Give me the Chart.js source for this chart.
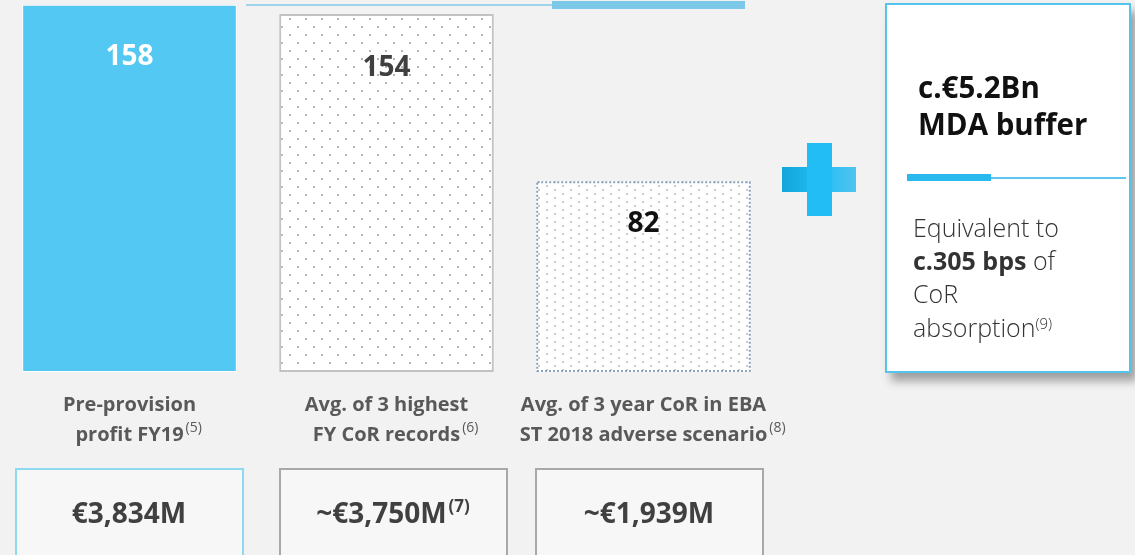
<!DOCTYPE html>
<html lang="en">
<head>
    <meta charset="UTF-8">
    <title>CoR absorption capacity</title>
    <script src="https://cdn.jsdelivr.net/npm/chart.js"></script>
    <style>
        body {
            margin: 0;
            background: #f2f2f2;
            font-family: "Open Sans", "Noto Sans", Arial, sans-serif;
        }
        .page {
            position: relative;
            width: 1135px;
            height: 555px;
            overflow: hidden;
        }
        .page div { position: absolute; box-sizing: border-box; }
        .line-thin { left: 246px; top: 4px; width: 306px; height: 2px; background: #9fd4ec; }
        .line-thick { left: 552px; top: 1px; width: 193px; height: 8px; background: #7cc8e8; }
        .plus-h { left: 782px; top: 167px; width: 74px; height: 25px;
            background: linear-gradient(90deg, #12a5d9, #21bdf4 50%, #4fc4ef); }
        .plus-v { left: 807px; top: 143px; width: 25px; height: 73px; background: #21bdf4; }
        .buffer-box { left: 885px; top: 3px; width: 246px; height: 370px;
            background: #fff; border: 2px solid #55c3ec;
            box-shadow: 6px 8px 9px rgba(0,0,0,0.35); }
        .rule-thick { left: 907px; top: 174px; width: 84px; height: 7px; background: #29b9ee; }
        .rule-thin { left: 991px; top: 177px; width: 135px; height: 2px; background: #5cc6ee; }
        .total { top: 468px; width: 229px; height: 100px; background: #f7f7f7; border: 2px solid #a8a8a8; }
        #chart { position: absolute; left: 0; top: 0; }
    </style>
</head>
<body>
<div class="page">
    <div class="line-thin"></div>
    <div class="line-thick"></div>
    <div class="plus-h"></div>
    <div class="plus-v"></div>
    <div class="buffer-box"></div>
    <div class="rule-thick"></div>
    <div class="rule-thin"></div>
    <div class="total" style="left:15px; border-color:#8fd8f2;"></div>
    <div class="total" style="left:279px;"></div>
    <div class="total" style="left:535px;"></div>
    <canvas id="chart" width="1135" height="555"></canvas>
</div>

<script>
    // data
    const categories = ['Pre-provision profit FY19', 'Avg. of 3 highest FY CoR records', 'Avg. of 3 year CoR in EBA ST 2018 adverse scenario'];
    const values = [158, 154, 82];
    const labelLines = [
        ['Pre-provision', 'profit FY19'],
        ['Avg. of 3 highest', 'FY CoR records'],
        ['Avg. of 3 year CoR in EBA', 'ST 2018 adverse scenario']
    ];
    const labelNotes = ['(5)', '(6)', '(8)'];
    const totals = ['€3,834M', '~€3,750M', '~€1,939M'];
    const totalNotes = ['', '(7)', ''];

    const FONT = '"Open Sans", "Noto Sans", Arial, sans-serif';

    function dotPattern(w, h, pts, color) {
        const c = document.createElement('canvas');
        c.width = w; c.height = h;
        const g = c.getContext('2d');
        g.fillStyle = '#ffffff';
        g.fillRect(0, 0, w, h);
        g.fillStyle = color;
        pts.forEach(p => g.fillRect(p[0], p[1], 2, 2));
        return g.createPattern(c, 'repeat');
    }

    const sparseDots = dotPattern(16, 16, [[1, 2], [9, 10]], '#b5b5b5');
    const denseDots = dotPattern(16, 8, [[2, 1], [10, 5]], '#cacaca');

    const valueColors = ['#ffffff', '#404040', '#111111'];
    const valueOffset = [60, 62, 51];

    // text with a raised note after it
    function textWithNote(ctx, txt, note, x, y, font, noteFont, noteRise, align) {
        ctx.font = font;
        const w = ctx.measureText(txt).width;
        ctx.font = noteFont;
        const nw = note ? ctx.measureText(note).width + 2 : 0;
        let x0 = x - w / 2;
        if (align === 'all') x0 = x - (w + nw) / 2;
        ctx.font = font;
        ctx.textAlign = 'left';
        ctx.fillText(txt, x0, y);
        if (note) {
            ctx.font = noteFont;
            ctx.fillText(note, x0 + w + 2, y - noteRise);
        }
    }

    const overlay = {
        id: 'overlay',
        afterDatasetsDraw(chart) {
            const ctx = chart.ctx;
            const meta = chart.getDatasetMeta(0);
            const xs = chart.scales.x;
            ctx.save();

            // dotted outline of the third bar
            const b3 = meta.data[2];
            ctx.strokeStyle = '#8aa3bf';
            ctx.lineWidth = 2;
            ctx.setLineDash([2, 2]);
            ctx.strokeRect(b3.x - b3.width / 2 + 1, b3.y + 1, b3.width - 2, b3.base - b3.y - 2);
            ctx.setLineDash([]);

            // values inside the bars
            ctx.textBaseline = 'alphabetic';
            ctx.textAlign = 'center';
            ctx.font = 'bold 28px ' + FONT;
            meta.data.forEach((bar, i) => {
                ctx.fillStyle = valueColors[i];
                ctx.fillText(String(values[i]), bar.x, bar.y + valueOffset[i]);
            });

            // category labels
            ctx.fillStyle = '#595959';
            categories.forEach((c, i) => {
                const x = xs.getPixelForValue(i);
                ctx.font = 'bold 20px ' + FONT;
                ctx.textAlign = 'center';
                ctx.fillText(labelLines[i][0], x, 411);
                textWithNote(ctx, labelLines[i][1], labelNotes[i], x, 441,
                    'bold 20px ' + FONT, '14px ' + FONT, 9, 'text');
            });

            // totals in the bottom boxes
            ctx.fillStyle = '#404040';
            const boxCentres = [129, 393, 649];
            totals.forEach((t, i) => {
                textWithNote(ctx, t, totalNotes[i], boxCentres[i], 523,
                    'bold 28px ' + FONT, 'bold 17px ' + FONT, 11, 'all');
            });

            // MDA buffer box text
            ctx.textAlign = 'left';
            ctx.fillStyle = '#111111';
            ctx.font = 'bold 29.5px ' + FONT;
            ctx.fillText('c.€5.2Bn', 918, 98);
            ctx.fillText('MDA buffer', 918, 135);

            ctx.fillStyle = '#333333';
            ctx.font = '300 25px ' + FONT;
            ctx.fillText('Equivalent to', 913, 237);
            ctx.font = 'bold 25px ' + FONT;
            ctx.fillText('c.305 bps', 913, 270);
            const bw = ctx.measureText('c.305 bps').width;
            ctx.font = '300 25px ' + FONT;
            ctx.fillText(' of', 913 + bw, 270);
            ctx.fillText('CoR', 913, 303);
            ctx.fillText('absorption', 913, 337);
            const aw = ctx.measureText('absorption').width;
            ctx.font = '300 15px ' + FONT;
            ctx.fillText('(9)', 913 + aw, 329);

            ctx.restore();
        }
    };

    new Chart(document.getElementById('chart'), {
        type: 'bar',
        data: {
            labels: categories,
            datasets: [{
                data: values,
                backgroundColor: ['#53c8f2', sparseDots, denseDots],
                borderColor: ['#ffffff', '#c2c2c2', 'rgba(0,0,0,0)'],
                borderWidth: [1, 2, 0],
                borderSkipped: false,
                barPercentage: 0.835,
                categoryPercentage: 1
            }]
        },
        options: {
            responsive: false,
            animation: false,
            layout: { padding: { left: 1, right: 363, top: 0, bottom: 183 } },
            scales: {
                x: { display: false },
                y: { display: false, min: 0, max: 160 }
            },
            plugins: {
                legend: { display: false },
                tooltip: { enabled: false }
            }
        },
        plugins: [overlay]
    });
</script>
</body>
</html>
